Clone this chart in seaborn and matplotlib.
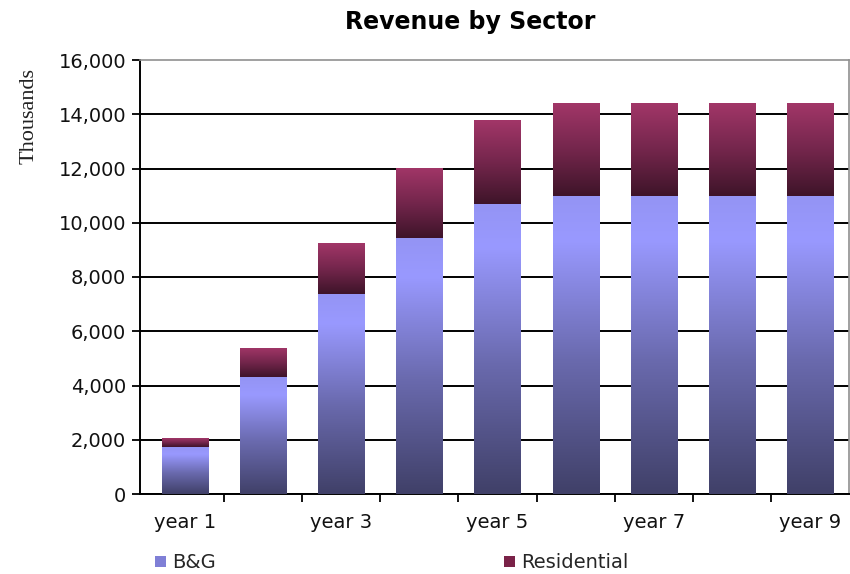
import numpy as np
import pandas as pd
import matplotlib
matplotlib.use("Agg")
import matplotlib.pyplot as plt
from matplotlib.colors import LinearSegmentedColormap
from matplotlib.patches import Patch
from matplotlib.ticker import FuncFormatter, FixedLocator
import seaborn as sns

# ---- data ----
years = ["year 1", "year 2", "year 3", "year 4", "year 5",
         "year 6", "year 7", "year 8", "year 9"]
bg_values = [1720, 4300, 7380, 9420, 10700, 11000, 11000, 11000, 11000]
residential_values = [330, 1070, 1860, 2600, 3080, 3400, 3400, 3400, 3400]
shown_labels = ["year 1", "", "year 3", "", "year 5", "", "year 7", "", "year 9"]

df = pd.DataFrame({"year": years, "B&G": bg_values, "Residential": residential_values})
df["Total"] = df["B&G"] + df["Residential"]

sns.set_style("white")
plt.rcParams["font.family"] = ["DejaVu Sans"]

fig = plt.figure(figsize=(8.5, 5.74), dpi=100)
ax = fig.add_axes([140 / 850, 1 - 494 / 574, (849 - 140) / 850, (494 - 60) / 574])

bw = 0.59
sns.barplot(data=df, x="year", y="Total", color="#993366", width=bw,
            saturation=1, ax=ax, zorder=2)
sns.barplot(data=df, x="year", y="B&G", color="#9999FF", width=bw,
            saturation=1, ax=ax, zorder=3)

cmap_bg = LinearSegmentedColormap.from_list(
    "bg", [(0.0, "#404068"), (0.45, "#6A6AAE"), (0.85, "#9999FF"), (1.0, "#9494F4")])
cmap_res = LinearSegmentedColormap.from_list(
    "res", [(0.0, "#3E1429"), (0.5, "#74264C"), (1.0, "#A23668")])
grad = np.linspace(0, 1, 256).reshape(-1, 1)

tot_bars = ax.containers[0]
bg_bars = ax.containers[1]
for pt, pb in zip(tot_bars, bg_bars):
    x = pb.get_x()
    w = pb.get_width()
    hb = pb.get_height()
    ht = pt.get_height()
    im = ax.imshow(grad, extent=[x, x + w, 0, hb], origin="lower", aspect="auto",
                   cmap=cmap_bg, zorder=3, interpolation="bicubic")
    im.set_clip_path(pb)
    pb.set_facecolor("none")
    pb.set_edgecolor("none")
    im2 = ax.imshow(grad, extent=[x, x + w, hb, ht], origin="lower", aspect="auto",
                    cmap=cmap_res, zorder=2, interpolation="bicubic")
    im2.set_clip_path(pt)
    pt.set_facecolor("none")
    pt.set_edgecolor("none")

ax.set_xlim(-0.576, 8.5)
ax.set_ylim(0, 16000)
ax.set_yticks(np.arange(0, 16001, 2000))
ax.yaxis.set_major_formatter(FuncFormatter(lambda v, p: f"{v:,.0f}"))
ax.set_xticks(range(len(years)))
ax.set_xticklabels(shown_labels)
ax.xaxis.set_minor_locator(FixedLocator([i + 0.5 for i in range(8)]))
ax.tick_params(axis="x", which="major", length=0, pad=14, labelsize=14,
               colors="#111111", bottom=True)
ax.tick_params(axis="x", which="minor", length=6, width=1.3, direction="out",
               color="black", bottom=True)
ax.tick_params(axis="y", which="major", length=6, width=1.3, direction="out",
               color="black", labelsize=14, labelcolor="#111111", pad=4, left=True)
ax.set_xlabel("")
ax.set_ylabel("")

ax.set_axisbelow(True)
ax.yaxis.grid(True, color="black", linewidth=1.4, zorder=0)
ax.xaxis.grid(False)
ax.yaxis.get_gridlines()[-1].set_visible(False)

for s in ["left", "bottom"]:
    ax.spines[s].set_color("black")
    ax.spines[s].set_linewidth(1.4)
for s in ["top", "right"]:
    ax.spines[s].set_color("#909090")
    ax.spines[s].set_linewidth(1.2)

fig.text(470 / 850, 1 - 22 / 574, "Revenue by Sector", ha="center", va="center",
         fontsize=17, fontweight="bold", color="black")
fig.text(29 / 850, 1 - 116 / 574, "Thousands", rotation=90, ha="center", va="center",
         fontsize=16, family=["Liberation Serif", "DejaVu Serif"], color="#222222")

handles = [Patch(facecolor="#7F7FD6", edgecolor="none"),
           Patch(facecolor="#7A2248", edgecolor="none")]
fig.legend(handles, ["B&G", "Residential"], loc="center left",
           bbox_to_anchor=(155 / 850, 1 - 563 / 574), ncol=2, frameon=False,
           fontsize=14, handlelength=0.55, handleheight=0.55, handletextpad=0.35,
           columnspacing=14.8, borderpad=0, borderaxespad=0)

fig.savefig("out.png", dpi=100, facecolor="white")
